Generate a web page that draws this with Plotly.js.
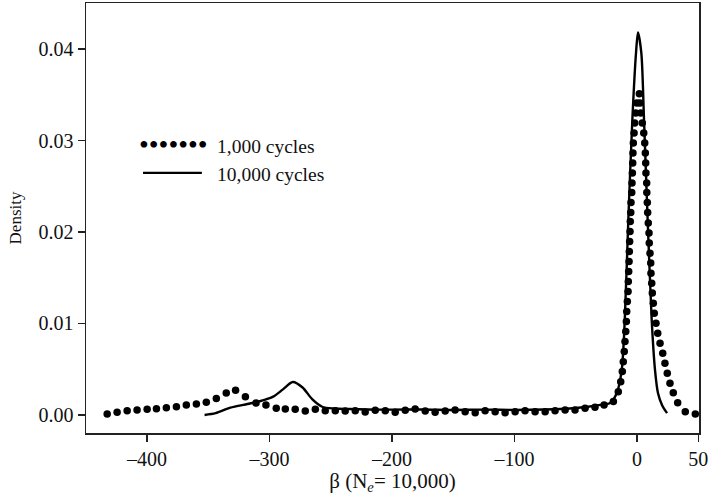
<!DOCTYPE html>
<html>
<head>
<meta charset="utf-8">
<script src="https://cdn.plot.ly/plotly-3.0.1.min.js"></script>
<style>html,body{margin:0;padding:0;background:#fff;}#chart{width:710px;height:495px;}</style>
</head>
<body>
<div id="chart"></div>
<script>
// 1,000 cycles (dotted density curve, dot positions along the curve)
const cycles1kX = [
  -432.5,-424.4,-416.2,-408.1,-399.9,-392.3,-384.2,-376.0,-367.9,-359.7,-351.6,-343.4,-335.3,-327.7,-319.7,-311.0,-302.9,
  -294.5,-287.1,-279.0,-270.8,-262.6,-254.5,-246.3,-238.2,-230.0,-221.9,-213.7,-205.5,-197.4,-189.2,-181.1,-172.9,-164.8,-156.6,
  -148.5,-140.3,-132.1,-124.0,-115.8,-107.7,-99.5,-91.4,-83.2,-75.0,-66.9,-58.7,-50.6,-42.4,-34.3,-26.9,-19.3,-15.3,
  -13.3,-12.0,-11.2,-10.4,-9.8,-9.2,-8.7,-8.4,-7.9,-7.3,-7.1,-6.8,-6.5,-6.3,-6.0,-5.7,-5.5,-5.1,-4.9,-4.3,-4.1,-3.8,-3.5,-3.3,-3.0,-2.4,-1.9,-1.1,-0.2,1.9,
  2.4,3.0,4.3,5.5,6.3,6.8,7.1,7.3,7.9,8.0,8.4,8.7,9.2,9.8,10.0,10.6,11.2,11.4,12.0,12.5,13.3,14.1,15.5,16.9,18.8,21.0,22.8,24.7,26.9,29.6,33.2,39.4,47.6
];
const cycles1kY = [
  0.0001,0.0003,0.00047,0.00055,0.00062,0.00069,0.0008,0.0009,0.0011,0.0012,0.0014,0.0018,0.0024,0.0027,0.0020,0.0013,0.0011,
  0.00073,0.00066,0.00062,0.00044,0.00062,0.00047,0.00047,0.00044,0.00047,0.00033,0.00051,0.00047,0.0003,0.00051,0.00066,0.00044,0.0003,0.00044,
  0.00055,0.00036,0.00025,0.00047,0.00036,0.00025,0.00036,0.00047,0.00036,0.00036,0.00047,0.00055,0.00055,0.00073,0.00084,0.0011,0.00146,0.00255,
  0.00364,0.00474,0.00583,0.00693,0.00802,0.00912,0.01021,0.0113,0.0124,0.01349,0.01458,0.01568,0.01678,0.01787,0.01896,0.02005,0.02115,0.02213,0.02323,0.02432,0.02535,0.02644,0.02754,0.02863,0.02973,0.03082,0.03191,0.03301,0.0341,0.03512,
  0.0341,0.03301,0.03191,0.03082,0.02973,0.02863,0.02754,0.02644,0.02535,0.02432,0.02323,0.02213,0.02097,0.01988,0.01879,0.01769,0.0166,0.0155,0.01441,0.01332,0.01222,0.01113,0.01003,0.00894,0.00784,0.00675,0.00566,0.00456,0.00347,0.00244,0.00135,0.00036,0.00011
];

// 10,000 cycles (solid density curve)
const cycles10kX = [-353,-344,-332,-318,-308,-297,-289,-281,-273,-265,-257,-247,-235,-220,-200,-175,-150,-125,-100,-75,-55,-40,-30,-22,-16.5,-12.5,-10,-7.1,-3.8,-0.8,0.8,3.5,5.7,8.7,12,14.7,17.1,20.4,24.5];
const cycles10kY = [0,0.0002,0.0008,0.0012,0.0015,0.002,0.0028,0.0036,0.003,0.0017,0.0009,0.0007,0.00065,0.0006,0.00058,0.0006,0.00055,0.00058,0.00055,0.0006,0.0007,0.0009,0.0011,0.0013,0.0024,0.0049,0.0104,0.0213,0.0323,0.0396,0.0418,0.0396,0.0323,0.0213,0.0104,0.0049,0.0024,0.0011,0.0002];

const xTickVals = [-400,-300,-200,-100,0,50];
const xTickText = ['\u2013400','\u2013300','\u2013200','\u2013100','0','50'];
const yTickVals = [0,0.01,0.02,0.03,0.04];
const yTickText = ['0.00','0.01','0.02','0.03','0.04'];
const seriesNames = ['1,000 cycles','10,000 cycles'];

const FONT = 'Liberation Serif, Times New Roman, serif';

const traces = [
  {x: cycles10kX, y: cycles10kY, type: 'scatter', mode: 'lines', name: seriesNames[1],
   line: {color: '#000', width: 2.4, shape: 'spline', smoothing: 0.8}, showlegend: false, hoverinfo: 'skip'},
  {x: cycles1kX, y: cycles1kY, type: 'scatter', mode: 'markers', name: seriesNames[0],
   marker: {color: '#000', size: 7.5, line: {width: 0}}, showlegend: false, hoverinfo: 'skip'}
];

const layout = {
  width: 710, height: 495,
  margin: {l: 86, r: 11, t: 3, b: 62},
  paper_bgcolor: '#fff', plot_bgcolor: '#fff',
  font: {family: FONT, color: '#111', size: 20},
  xaxis: {
    range: [-449.8, 50.6], tickmode: 'array', tickvals: xTickVals, ticktext: xTickText,
    ticks: 'outside', ticklen: 7, tickwidth: 1.3, tickcolor: '#222',
    showline: true, linecolor: '#222', linewidth: 1.5, mirror: true,
    showgrid: false, zeroline: false,
    tickfont: {family: FONT, size: 20, color: '#111'},
    title: {text: '\u03b2 (N<sub><i>e</i></sub>= 10,000)', font: {family: FONT, size: 21, color: '#111'}, standoff: 6}
  },
  yaxis: {
    range: [-0.00197, 0.04503], tickmode: 'array', tickvals: yTickVals, ticktext: yTickText,
    ticks: 'outside', ticklen: 7, tickwidth: 1.3, tickcolor: '#222',
    showline: true, linecolor: '#222', linewidth: 1.5, mirror: true,
    showgrid: false, zeroline: false,
    tickfont: {family: FONT, size: 20, color: '#111'},
    title: {text: 'Density', font: {family: FONT, size: 17, color: '#111'}, standoff: 12}
  },
  shapes: [
    {type: 'line', xref: 'paper', yref: 'paper', x0: 0.093, x1: 0.189, y0: 0.605, y1: 0.605, line: {color: '#000', width: 2.4}}
  ],
  annotations: [
    {xref: 'paper', yref: 'paper', x: 0.083, y: 0.672, xanchor: 'left', yanchor: 'middle', showarrow: false,
     text: '\u2022\u2022\u2022\u2022\u2022\u2022\u2022', font: {family: FONT, size: 28, color: '#000'}},
    {xref: 'paper', yref: 'paper', x: 0.210, y: 0.667, xanchor: 'left', yanchor: 'middle', showarrow: false,
     text: seriesNames[0], font: {family: FONT, size: 19.5, color: '#111'}},
    {xref: 'paper', yref: 'paper', x: 0.210, y: 0.602, xanchor: 'left', yanchor: 'middle', showarrow: false,
     text: seriesNames[1], font: {family: FONT, size: 19.5, color: '#111'}}
  ]
};

Plotly.newPlot('chart', traces, layout, {displayModeBar: false, staticPlot: true});
</script>
</body>
</html>
